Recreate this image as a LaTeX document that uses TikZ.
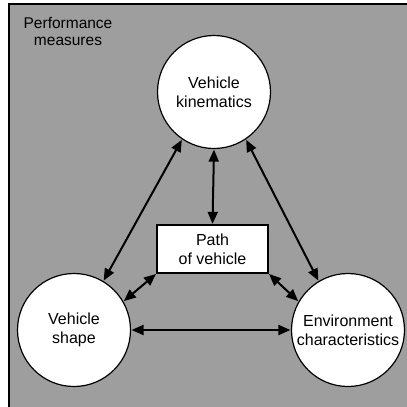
\documentclass[tikz,border=0pt]{standalone}
\usepackage{fontspec}
\setmainfont{Liberation Sans}
\usetikzlibrary{arrows.meta, positioning}

\begin{document}
\begin{tikzpicture}[x=1pt, y=-1pt, >={Triangle[length=12pt,width=10pt]},
    factor/.style={circle, draw, line width=1.2pt, fill=white, minimum size=113pt, inner sep=0pt, align=center, font=\fontsize{16}{19}\selectfont},
    link/.style={<->, line width=2pt, shorten <=0.5pt, shorten >=0.5pt}]
    \useasboundingbox (0,0) rectangle (407,407);
    \fill [black!38] (9,4) rectangle (407,407);
    \draw [line width=1.2pt] (9,407) -- (9,4) -- (407,4);
    \node [align=center, font=\fontsize{15.5}{17}\selectfont] (perf) at (68,31) {Performance\\measures};

    \node [factor] (kin) at (214,92) {Vehicle\\kinematics};
    \node [factor] (shape) at (74,330) {Vehicle\\shape};
    \node [factor] (env) at (348,330) {Environment\\characteristics};
    \node [rectangle, draw, line width=1.3pt, fill=white, minimum width=111pt, minimum height=48pt, align=center, font=\fontsize{16}{19}\selectfont] (path) at (212.5,249) {Path\\of vehicle};

    \draw [link] (kin.south) -- (path.north);
    \draw [link] (kin.236) -- (shape.59);
    \draw [link] (kin.304) -- (env.121);
    \draw [link] (path.south west) -- (shape.30);
    \draw [link] (path.south east) -- (env.150);
    \draw [link] (shape.east) -- (env.west);
\end{tikzpicture}
\end{document}
